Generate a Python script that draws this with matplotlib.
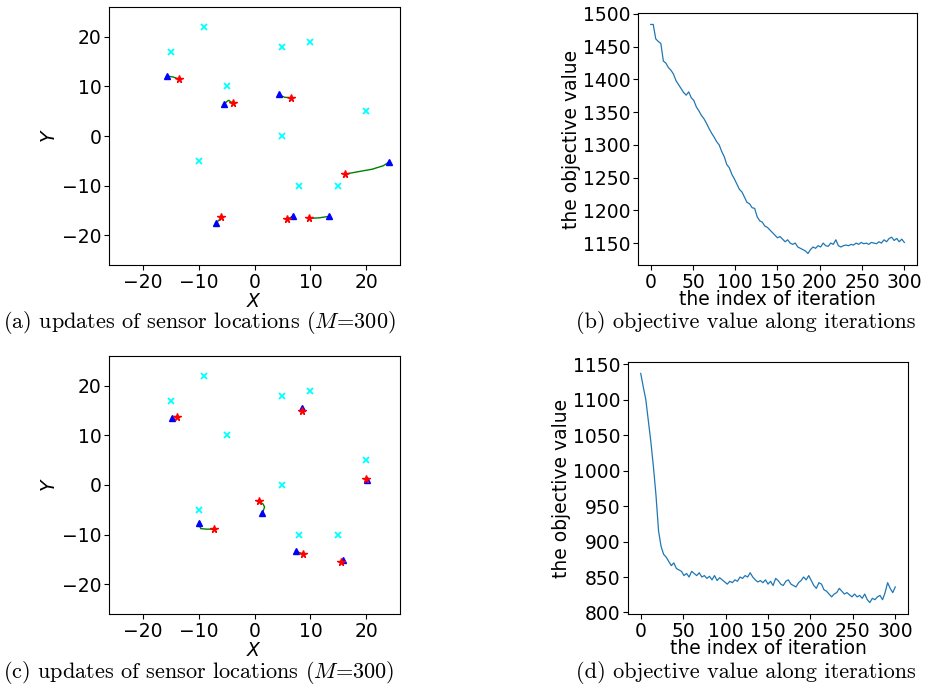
import numpy as np
import matplotlib
matplotlib.use("Agg")
import matplotlib.pyplot as plt

plt.rcParams['mathtext.fontset'] = 'dejavusans'

# ---------------- data ----------------
# target locations (same in both scatter panels)
targets_x = [-9, -15, 5, 10, -5, 20, 5, -10, 8, 15]
targets_y = [22, 17, 18, 19, 10, 5, 0, -5, -10, -10]

# sensor trajectories for panel (a): list of (xs, ys); first = star, last = triangle
traj_a = [
    ([-13.5, -14.6, -15.7], [11.5, 11.9, 12.1]),
    ([-3.9, -4.6, -5.0, -5.4], [6.6, 7.2, 6.9, 6.4]),
    ([6.5, 5.4, 4.8, 4.4], [7.7, 7.8, 8.1, 8.5]),
    ([16.1, 18.5, 21.0, 23.0, 24.1], [-7.7, -7.2, -6.7, -6.0, -5.2]),
    ([-5.9, -6.4, -6.9], [-16.4, -17.0, -17.6]),
    ([5.8, 6.3, 6.8], [-16.8, -16.5, -16.2]),
    ([9.7, 11.5, 13.3], [-16.6, -16.5, -16.2]),
]

# sensor trajectories for panel (c)
traj_c = [
    ([-13.8, -14.3, -14.8], [13.8, 13.8, 13.6]),
    ([8.5, 8.45, 8.4], [15.0, 15.3, 15.5]),
    ([20.0, 20.05, 20.1], [1.3, 1.2, 1.1]),
    ([0.8, 1.5, 1.8, 1.6, 1.4], [-3.3, -3.8, -4.4, -5.1, -5.7]),
    ([-7.2, -8.5, -9.6, -9.8, -9.9], [-8.9, -8.9, -8.8, -8.3, -7.7]),
    ([8.7, 8.0, 7.4], [-13.9, -13.6, -13.4]),
    ([15.4, 15.65, 15.9], [-15.6, -15.3, -15.1]),
]

# objective values
iters_b = list(range(0, 301, 3))
obj_b = [1484, 1484, 1462, 1458, 1455, 1428, 1425, 1418, 1414, 1408,
         1398, 1392, 1386, 1380, 1376, 1381, 1372, 1368, 1358, 1352,
         1345, 1340, 1333, 1325, 1318, 1312, 1305, 1300, 1290, 1282,
         1270, 1265, 1255, 1248, 1240, 1232, 1228, 1220, 1212, 1210,
         1204, 1203, 1190, 1184, 1182, 1176, 1174, 1170, 1166, 1162,
         1158, 1160, 1156, 1152, 1155, 1150, 1148, 1150, 1144, 1142,
         1140, 1138, 1134, 1140, 1144, 1142, 1146, 1144, 1150, 1146,
         1145, 1150, 1148, 1155, 1146, 1144, 1146, 1147, 1146, 1148,
         1147, 1150, 1148, 1151, 1149, 1150, 1148, 1151, 1150, 1149,
         1152, 1150, 1155, 1152, 1157, 1159, 1154, 1157, 1152, 1156,
         1151]

iters_d = list(range(0, 301, 3))
obj_d = [1137, 1118, 1100, 1070, 1040, 1005, 965, 915, 893, 882,
         878, 872, 866, 870, 862, 860, 858, 852, 855, 850,
         858, 855, 852, 856, 850, 852, 848, 851, 846, 852,
         845, 849, 846, 843, 840, 844, 842, 846, 844, 850,
         848, 852, 850, 856, 850, 846, 843, 845, 842, 846,
         840, 844, 838, 848, 845, 840, 838, 844, 846, 840,
         838, 836, 842, 845, 850, 846, 852, 845, 838, 834,
         842, 840, 832, 830, 826, 822, 826, 828, 834, 830,
         826, 828, 825, 822, 826, 822, 824, 820, 826, 818,
         814, 820, 818, 822, 824, 818, 828, 842, 834, 828,
         836]

captions = [r"(a) updates of sensor locations ($M$=300)",
            r"(b) objective value along iterations",
            r"(c) updates of sensor locations ($M$=300)",
            r"(d) objective value along iterations"]

# ---------------- figure ----------------
W, H = 937, 690
fig = plt.figure(figsize=(W / 100, H / 100), dpi=100)

def frac(l, t, r, b):
    return [l / W, (H - b) / H, (r - l) / W, (b - t) / H]

ax_a = fig.add_axes(frac(109, 7, 400, 265))
ax_b = fig.add_axes(frac(638, 13, 917, 265))
ax_c = fig.add_axes(frac(109, 356, 400, 614))
ax_d = fig.add_axes(frac(628, 362, 908, 614))

TICK = 13.5

def scatter_panel(ax, trajs):
    ax.plot(targets_x, targets_y, 'x', color='cyan', markersize=5, mew=1.3, ls='none')
    for xs, ys in trajs:
        ax.plot(xs, ys, '-', color='green', lw=1.0)
        ax.plot(xs[-1], ys[-1], '^', color='blue', markersize=4.5, ls='none')
        ax.plot(xs[0], ys[0], '*', color='red', markersize=5.5, ls='none')
    ax.set_xlim(-26, 26)
    ax.set_ylim(-26, 26)
    ax.set_xticks([-20, -10, 0, 10, 20])
    ax.set_yticks([-20, -10, 0, 10, 20])
    ax.tick_params(labelsize=TICK, pad=2)
    ax.set_xlabel(r'$X$', fontsize=TICK, labelpad=0.5)
    ax.set_ylabel(r'$Y$', fontsize=TICK, labelpad=2)

scatter_panel(ax_a, traj_a)
scatter_panel(ax_c, traj_c)

for ax, it, ob in [(ax_b, iters_b, obj_b), (ax_d, iters_d, obj_d)]:
    ax.plot(it, ob, '-', color='#1f77b4', lw=0.9)
    ax.set_xticks([0, 50, 100, 150, 200, 250, 300])
    ax.tick_params(labelsize=TICK, pad=2)
    ax.set_xlabel('the index of iteration', fontsize=TICK, labelpad=-1)
    ax.set_ylabel('the objective value', fontsize=TICK, labelpad=1)

ax_b.set_yticks([1150, 1200, 1250, 1300, 1350, 1400, 1450, 1500])
ax_d.set_yticks([800, 850, 900, 950, 1000, 1050, 1100, 1150])

cap_kw = dict(ha='center', va='center', fontsize=16, family='cmr10')
plt.rcParams['mathtext.fontset'] = 'cm'
fig.text(199 / W, 1 - 323 / H, captions[0], **cap_kw)
fig.text(746 / W, 1 - 323 / H, captions[1], **cap_kw)
fig.text(199 / W, 1 - 672 / H, captions[2], **cap_kw)
fig.text(746 / W, 1 - 672 / H, captions[3], **cap_kw)

fig.savefig('out.png', dpi=100)
